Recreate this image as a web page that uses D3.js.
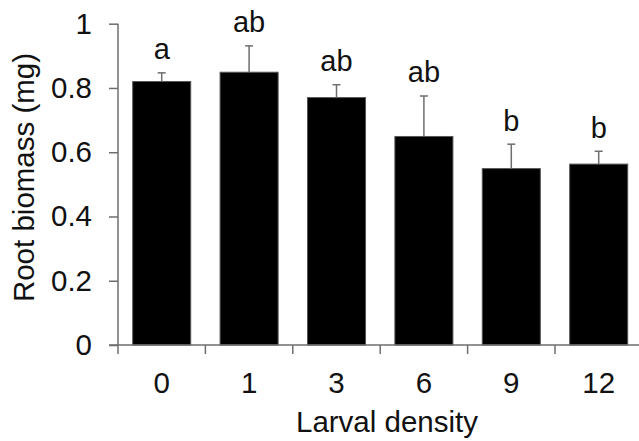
<!DOCTYPE html>
<html>
<head>
<meta charset="utf-8">
<script src="https://cdn.jsdelivr.net/npm/d3@7"></script>
<style>
  body { margin: 0; background: #fff; }
  text { font-family: "Liberation Sans", Arial, sans-serif; fill: #111; }
</style>
</head>
<body>
<svg></svg>
<script>
var width = 639, height = 441;
var axisColor = "#6e6e6e";
var fontSize = 29.5;

// data
var densities = ["0", "1", "3", "6", "9", "12"];
var biomass = [0.82, 0.849, 0.770, 0.649, 0.549, 0.563];
var errorTop = [0.847, 0.931, 0.810, 0.775, 0.625, 0.603];
var letters = ["a", "ab", "ab", "ab", "b", "b"];
var yTicks = [0, 0.2, 0.4, 0.6, 0.8, 1];

var svg = d3.select("svg")
  .attr("width", width)
  .attr("height", height);

var plotLeft = 118, plotRight = 642.4, plotTop = 23.7, plotBottom = 345;

var x = d3.scaleBand()
  .domain(densities)
  .range([plotLeft, plotRight])
  .paddingInner(0.336)
  .paddingOuter(0.168);

var y = d3.scaleLinear()
  .domain([0, 1])
  .range([plotBottom, plotTop]);

//bars
svg.selectAll("rect.bar")
  .data(densities)
  .enter().append("rect")
  .attr("class", "bar")
  .attr("x", function(d){ return x(d); })
  .attr("y", function(d, i){ return y(biomass[i]); })
  .attr("width", x.bandwidth())
  .attr("height", function(d, i){ return y(0) - y(biomass[i]); })
  .attr("fill", "#000")
  .attr("stroke", "#555")
  .attr("stroke-width", 1);

//error bars, upward only
var capHalf = 4;
densities.forEach(function(d, i){
  var cx = x(d) + x.bandwidth() / 2;
  svg.append("line")
    .attr("x1", cx).attr("x2", cx)
    .attr("y1", y(biomass[i])).attr("y2", y(errorTop[i]))
    .attr("stroke", axisColor).attr("stroke-width", 1.5);
  svg.append("line")
    .attr("x1", cx - capHalf).attr("x2", cx + capHalf)
    .attr("y1", y(errorTop[i])).attr("y2", y(errorTop[i]))
    .attr("stroke", axisColor).attr("stroke-width", 1.5);
  svg.append("text")
    .attr("x", cx)
    .attr("y", y(errorTop[i]) - 13.5)
    .attr("text-anchor", "middle")
    .attr("font-size", 29)
    .text(letters[i]);
});

//y axis
var yAxis = svg.append("g")
  .attr("transform", "translate(" + plotLeft + ",0)")
  .call(d3.axisLeft(y).tickValues(yTicks).tickSize(9).tickPadding(17)
    .tickFormat(function(d){ return d === 0 || d === 1 ? d3.format("d")(d) : d3.format(".1f")(d); }));
yAxis.select(".domain").attr("d", "M0," + plotTop + "V" + plotBottom)
  .attr("stroke", axisColor).attr("stroke-width", 1.5);
yAxis.selectAll(".tick line").attr("stroke", axisColor).attr("stroke-width", 1.5);
yAxis.selectAll(".tick text")
  .attr("font-size", fontSize)
  .attr("font-family", null)
  .attr("dy", "0.32em")
  .attr("fill", "#111");

//x axis: ticks sit on the category boundaries
var boundaries = densities.map(function(d){ return x(d) - (x.step() - x.bandwidth()) / 2; });
svg.append("line")
  .attr("x1", plotLeft - 9).attr("x2", width)
  .attr("y1", plotBottom).attr("y2", plotBottom)
  .attr("stroke", axisColor).attr("stroke-width", 1.5);
svg.selectAll("line.xtick")
  .data(boundaries)
  .enter().append("line")
  .attr("class", "xtick")
  .attr("x1", function(d){ return d; }).attr("x2", function(d){ return d; })
  .attr("y1", plotBottom).attr("y2", plotBottom + 9)
  .attr("stroke", axisColor).attr("stroke-width", 1.5);
svg.selectAll("text.xlab")
  .data(densities)
  .enter().append("text")
  .attr("class", "xlab")
  .attr("x", function(d){ return x(d) + x.bandwidth() / 2; })
  .attr("y", 393)
  .attr("text-anchor", "middle")
  .attr("font-size", fontSize)
  .text(function(d){ return d; });

//axis titles
svg.append("text")
  .attr("x", 387)
  .attr("y", 432)
  .attr("text-anchor", "middle")
  .attr("font-size", fontSize)
  .text("Larval density");

svg.append("text")
  .attr("transform", "translate(34,177.5) rotate(-90)")
  .attr("text-anchor", "middle")
  .attr("font-size", fontSize)
  .text("Root biomass (mg)");
</script>
</body>
</html>
